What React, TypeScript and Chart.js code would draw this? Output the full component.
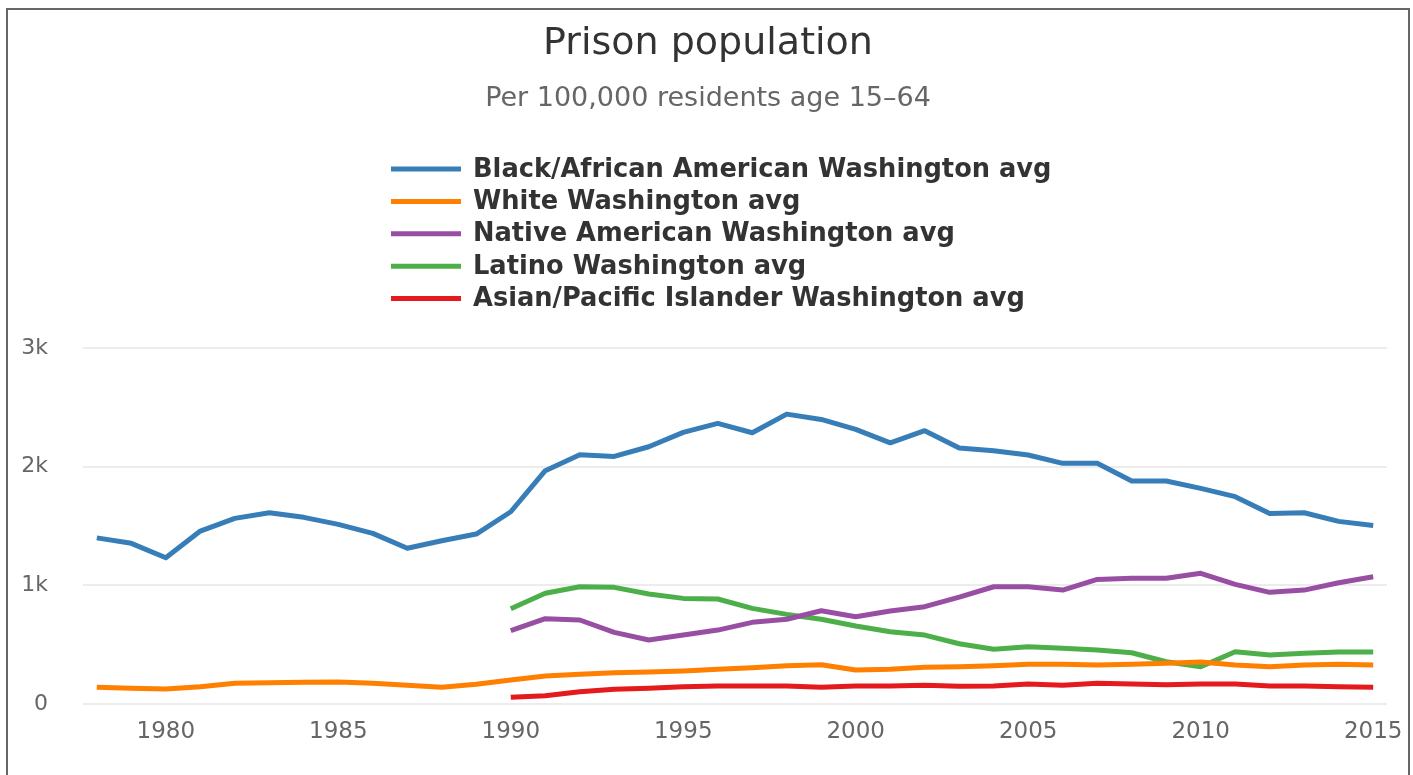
import React, { useEffect, useRef } from 'react';
import { Chart, registerables } from 'chart.js';

Chart.register(...registerables);

const YEARS = [
  1978, 1979, 1980, 1981, 1982, 1983, 1984, 1985, 1986, 1987, 1988, 1989,
  1990, 1991, 1992, 1993, 1994, 1995, 1996, 1997, 1998, 1999, 2000, 2001,
  2002, 2003, 2004, 2005, 2006, 2007, 2008, 2009, 2010, 2011, 2012, 2013,
  2014, 2015,
];

const BLACK = [
  1400, 1354, 1233, 1457, 1564, 1612, 1573, 1514, 1438, 1312, 1376, 1432,
  1620, 1966, 2100, 2086, 2168, 2289, 2365, 2286, 2443, 2398, 2314, 2201,
  2303, 2158, 2134, 2098, 2028, 2028, 1879, 1879, 1817, 1747, 1606, 1612,
  1539, 1505,
];

const WHITE = [
  141, 132, 126, 146, 174, 180, 183, 185, 174, 157, 141, 166,
  202, 236, 250, 264, 270, 278, 292, 306, 323, 331, 286, 292,
  309, 314, 323, 334, 334, 329, 334, 343, 354, 329, 314, 329,
  334, 329,
];

const NATIVE = [
  null, null, null, null, null, null, null, null, null, null, null, null,
  618, 719, 708, 604, 539, 581, 623, 688, 714, 786, 736, 783,
  820, 900, 988, 988, 960, 1050, 1059, 1059, 1101, 1008, 941, 960,
  1022, 1073,
];

const LATINO = [
  null, null, null, null, null, null, null, null, null, null, null, null,
  803, 933, 988, 983, 927, 890, 885, 806, 755, 714, 657, 609,
  581, 508, 461, 483, 469, 455, 432, 356, 314, 441, 413, 427,
  438, 438,
];

const ASIAN = [
  null, null, null, null, null, null, null, null, null, null, null, null,
  56, 70, 104, 124, 132, 146, 152, 152, 152, 141, 152, 152,
  157, 149, 152, 168, 157, 174, 168, 163, 168, 168, 152, 152,
  146, 141,
];

const SERIES_LABELS = [
  'Black/African American Washington avg',
  'White Washington avg',
  'Native American Washington avg',
  'Latino Washington avg',
  'Asian/Pacific Islander Washington avg',
];

const SERIES_COLORS = ['#377eb8', '#ff7f00', '#984ea3', '#4daf4a', '#e41a1c'];

const X_TICKS = [1980, 1985, 1990, 1995, 2000, 2005, 2010, 2015];
const Y_TICKS = [0, 1000, 2000, 3000];

const TITLE = 'Prison population';
const SUBTITLE = 'Per 100,000 residents age 15–64';

const FONT = '"DejaVu Sans", Verdana, sans-serif';

const columnLegend = {
  id: 'columnLegend',
  afterDraw(chart: any) {
    const ctx = chart.ctx;
    ctx.save();
    ctx.font = `bold 25.7px ${FONT}`;
    ctx.textBaseline = 'middle';
    ctx.textAlign = 'left';
    chart.data.datasets.forEach((ds: any, i: number) => {
      const y = 159 + i * 32.4;
      ctx.strokeStyle = ds.borderColor;
      ctx.lineWidth = 5;
      ctx.lineCap = 'butt';
      ctx.beginPath();
      ctx.moveTo(383, y);
      ctx.lineTo(453, y);
      ctx.stroke();
      ctx.fillStyle = '#333333';
      ctx.fillText(ds.label, 465, y + 1);
    });
    ctx.restore();
  },
};

export default function App() {
  const canvasRef = useRef<HTMLCanvasElement | null>(null);

  useEffect(() => {
    if (!canvasRef.current) return;
    Chart.defaults.font.family = FONT;
    const seriesValues = [BLACK, WHITE, NATIVE, LATINO, ASIAN];
    const chart = new Chart(canvasRef.current, {
      type: 'line',
      data: {
        labels: YEARS,
        datasets: seriesValues.map((vals, i) => ({
          label: SERIES_LABELS[i],
          data: vals,
          borderColor: SERIES_COLORS[i],
          backgroundColor: SERIES_COLORS[i],
          borderWidth: 5,
          pointRadius: 0,
          tension: 0,
          borderJoinStyle: 'round',
          fill: false,
          spanGaps: false,
        })),
      },
      options: {
        responsive: false,
        animation: false,
        layout: { padding: { left: 0, right: 0, top: 0, bottom: 0 } },
        plugins: {
          legend: { display: false },
          tooltip: { enabled: false },
          title: {
            display: true,
            text: TITLE,
            color: '#333333',
            font: { size: 38, weight: 'normal', family: FONT },
            padding: { top: 11, bottom: 0 },
          },
          subtitle: {
            display: true,
            text: SUBTITLE,
            color: '#666666',
            font: { size: 27, weight: 'normal', family: FONT },
            padding: { top: 15.7, bottom: 233.3 },
          },
        },
        scales: {
          x: {
            type: 'linear',
            min: 1977.6,
            max: 2015.4,
            grid: { display: false, drawTicks: false },
            border: { display: false },
            ticks: {
              color: '#666666',
              font: { size: 23, family: FONT },
              padding: 14,
              maxRotation: 0,
              autoSkip: false,
              callback: (v: any) => String(v),
            },
            afterBuildTicks: (s: any) => {
              s.ticks = X_TICKS.map((v) => ({ value: v }));
            },
            afterFit: (s: any) => {
              s.paddingLeft = 0;
              s.paddingRight = 21;
              s.height = 71;
            },
          },
          y: {
            type: 'linear',
            min: 0,
            max: 3000,
            grid: { color: '#ececec', lineWidth: 2, drawTicks: false },
            border: { display: false },
            ticks: {
              color: '#666666',
              font: { size: 22, family: FONT },
              padding: 35,
              callback: (v: any) => (v === 0 ? '0' : `${v / 1000}k`),
            },
            afterBuildTicks: (s: any) => {
              s.ticks = Y_TICKS.map((v) => ({ value: v }));
            },
            afterFit: (s: any) => {
              s.width = 75;
            },
          },
        },
      } as any,
      plugins: [columnLegend],
    });
    return () => chart.destroy();
  }, []);

  return (
    <div
      style={{
        position: 'absolute',
        left: 6,
        top: 8,
        width: 1400,
        height: 765,
        borderTop: '2px solid #666666',
        borderLeft: '2px solid #666666',
        borderRight: '2px solid #666666',
        background: '#ffffff',
      }}
    >
      <canvas ref={canvasRef} width={1400} height={765} style={{ display: 'block' }} />
    </div>
  );
}
